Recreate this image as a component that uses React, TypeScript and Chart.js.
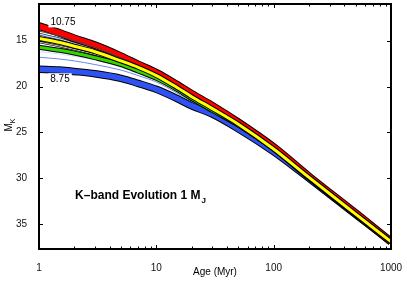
import { useEffect, useRef } from 'react';
import { Chart, registerables } from 'chart.js';

Chart.register(...registerables);

// Age in Myr
const ages = [1, 1.5, 2, 3, 5, 7, 10, 15, 20, 30, 50, 100, 200, 500, 1000];
// Absolute K magnitude for each initial-entropy track (label values 10.75 ... 8.75)
const mk1075 = [13.4, 14.15, 14.75, 15.5, 16.7, 17.6, 18.5, 19.8, 20.8, 22.1, 23.9, 26.6, 29.8, 33.8, 36.9];
const mk1050 = [13.95, 14.5, 15.0, 15.7, 16.9, 17.7, 18.6, 19.9, 20.9, 22.2, 24.0, 26.7, 29.85, 33.85, 36.9];
const mk1025 = [14.3, 14.8, 15.3, 16.0, 17.0, 17.8, 18.7, 20.0, 21.0, 22.3, 24.0, 26.7, 29.85, 33.85, 36.9];
const mk1000 = [14.75, 15.2, 15.6, 16.2, 17.2, 17.9, 18.8, 20.1, 21.1, 22.4, 24.1, 26.8, 29.9, 33.9, 36.9];
const mk975 = [15.15, 15.6, 15.95, 16.5, 17.4, 18.1, 18.9, 20.2, 21.2, 22.5, 24.1, 26.8, 29.9, 33.9, 36.9];
const mk950 = [15.7, 16.05, 16.35, 16.85, 17.6, 18.3, 19.1, 20.3, 21.3, 22.6, 24.2, 26.8, 29.9, 33.9, 36.9];
const mk925 = [16.2, 16.45, 16.7, 17.1, 17.9, 18.6, 19.3, 20.5, 21.5, 22.7, 24.3, 26.9, 29.95, 33.9, 36.9];
const mk900 = [16.8, 17.0, 17.2, 17.6, 18.2, 18.8, 19.5, 20.7, 21.6, 22.8, 24.4, 26.9, 29.95, 33.9, 36.9];
const mk875 = [18.1, 18.2, 18.35, 18.6, 19.1, 19.65, 20.3, 21.3, 22.1, 23.0, 24.6, 27.1, 30.0, 33.95, 36.9];

const xTickValues = [1, 10, 100, 1000];
const yTickValues = [15, 20, 25, 30, 35];
const trackLabels = [
  { text: '10.75', age: 1.6, mk: 12.95 },
  { text: '8.75', age: 1.51, mk: 19.15 },
];
const titleText = 'K\u2013band Evolution 1 M';
const titleSub = 'J';

const FONT = '"Liberation Sans", Arial, Helvetica, sans-serif';

type Track = { data: number[]; color: string; w: number; ow: number };
// drawn bottom to top
const tracks: Track[] = [
  { data: mk875, color: '#2f52f2', w: 5.5, ow: 7.5 },
  { data: mk1075, color: '#ff0000', w: 6, ow: 8 },
  { data: mk900, color: '#6a88ea', w: 1, ow: 0 },
  { data: mk925, color: '#cfdcff', w: 1, ow: 0 },
  { data: mk975, color: '#ffffff', w: 0.8, ow: 2.2 },
  { data: mk1025, color: '#b7ccff', w: 1.5, ow: 2.5 },
  { data: mk1050, color: '#444444', w: 1, ow: 0 },
  { data: mk950, color: '#38d400', w: 3, ow: 5 },
  { data: mk1000, color: '#ffff00', w: 3, ow: 5 },
];

function buildDatasets() {
  const ds: any[] = [];
  let order = 1000;
  tracks.forEach((t) => {
    const pts = ages.map((a, i) => ({ x: a, y: t.data[i] }));
    if (t.ow > 0) {
      ds.push({
        data: pts,
        borderColor: '#000000',
        borderWidth: t.ow,
        pointRadius: 0,
        cubicInterpolationMode: 'monotone',
        fill: false,
        clip: 0,
        order: order--,
      });
    }
    ds.push({
      data: pts,
      borderColor: t.color,
      borderWidth: t.w,
      pointRadius: 0,
      cubicInterpolationMode: 'monotone',
      fill: false,
      clip: 0,
      order: order--,
    });
  });
  return ds;
}

const framePlugin = {
  id: 'frameAndText',
  afterDatasetsDraw(chart: any) {
    const { ctx, chartArea: a, scales } = chart;
    const x = scales.x;
    const y = scales.y;
    ctx.save();

    // track labels with white boxes
    ctx.font = `10px ${FONT}`;
    ctx.textAlign = 'center';
    ctx.textBaseline = 'middle';
    trackLabels.forEach((l) => {
      const px = x.getPixelForValue(l.age);
      const py = y.getPixelForValue(l.mk);
      const w = ctx.measureText(l.text).width;
      ctx.fillStyle = '#ffffff';
      ctx.fillRect(px - w / 2 - 2, py - 5.5, w + 4, 11);
      ctx.fillStyle = '#000000';
      ctx.fillText(l.text, px, py + 0.5);
    });

    // frame
    ctx.strokeStyle = '#000000';
    ctx.lineWidth = 2;
    ctx.strokeRect(a.left, a.top, a.right - a.left, a.bottom - a.top);

    // x ticks (major and minor), inward, top and bottom
    ctx.lineWidth = 1;
    ctx.beginPath();
    for (let d = 1; d < 1000; d *= 10) {
      for (let m = 1; m <= 10; m++) {
        const v = d * m;
        const px = Math.round(x.getPixelForValue(v)) + 0.5;
        const len = m === 1 || m === 10 ? 4 : 2.5;
        ctx.moveTo(px, a.bottom);
        ctx.lineTo(px, a.bottom - len);
        ctx.moveTo(px, a.top);
        ctx.lineTo(px, a.top + len);
      }
    }
    yTickValues.forEach((v) => {
      const py = Math.round(y.getPixelForValue(v)) + 0.5;
      ctx.moveTo(a.left, py);
      ctx.lineTo(a.left + 4, py);
      ctx.moveTo(a.right, py);
      ctx.lineTo(a.right - 4, py);
    });
    ctx.stroke();

    // inner title
    const tx = x.getPixelForValue(2.03);
    const ty = y.getPixelForValue(32.3);
    ctx.font = `bold 12px ${FONT}`;
    ctx.textAlign = 'left';
    ctx.textBaseline = 'alphabetic';
    ctx.fillStyle = '#000000';
    ctx.fillText(titleText, tx, ty);
    const tw = ctx.measureText(titleText).width;
    ctx.font = `bold 8px ${FONT}`;
    ctx.fillText(titleSub, tx + tw + 1, ty + 4);

    // y axis title M_K rotated
    ctx.translate(12, (a.top + a.bottom) / 2 + 5);
    ctx.rotate(-Math.PI / 2);
    ctx.font = `10px ${FONT}`;
    ctx.fillText('M', 0, 0);
    const mw = ctx.measureText('M').width;
    ctx.font = `7px ${FONT}`;
    ctx.fillText('K', mw, 2.5);

    ctx.restore();
  },
};

export default function App() {
  const ref = useRef<HTMLCanvasElement>(null);
  useEffect(() => {
    const canvas = ref.current;
    if (!canvas) return;
    const chart = new Chart(canvas, {
      type: 'line',
      data: { datasets: buildDatasets() },
      options: {
        animation: false,
        responsive: false,
        maintainAspectRatio: false,
        layout: { padding: { top: 4, right: 16, left: 0, bottom: 0 } },
        plugins: { legend: { display: false }, tooltip: { enabled: false } },
        elements: { line: { borderCapStyle: 'butt', borderJoinStyle: 'round' } },
        scales: {
          x: {
            type: 'logarithmic',
            min: 1,
            max: 1000,
            grid: { display: false },
            border: { display: false },
            afterBuildTicks: (s: any) => {
              s.ticks = xTickValues.map((v) => ({ value: v }));
            },
            afterFit: (s: any) => {
              s.height = 32;
              s.paddingLeft = 0;
              s.paddingRight = 0;
            },
            ticks: {
              autoSkip: false,
              maxRotation: 0,
              padding: 5,
              color: '#111111',
              font: { family: FONT, size: 10 },
              callback: (v: any) => String(v),
            },
            title: {
              display: true,
              text: 'Age (Myr)',
              color: '#000000',
              font: { family: FONT, size: 10 },
              padding: { top: 0, bottom: 3 },
            },
          },
          y: {
            type: 'linear',
            reverse: true,
            min: 11,
            max: 37.7,
            grid: { display: false },
            border: { display: false },
            afterBuildTicks: (s: any) => {
              s.ticks = yTickValues.map((v) => ({ value: v }));
            },
            afterFit: (s: any) => {
              s.width = 39;
              s.paddingTop = 0;
              s.paddingBottom = 0;
            },
            ticks: {
              padding: 4,
              color: '#111111',
              font: { family: FONT, size: 10 },
            },
          },
        },
      },
      plugins: [framePlugin],
    } as any);
    return () => chart.destroy();
  }, []);
  return (
    <div style={{ position: 'fixed', left: 0, top: 0, width: 407, height: 281, background: '#ffffff' }}>
      <canvas ref={ref} width={407} height={281} style={{ width: 407, height: 281, display: 'block' }} />
    </div>
  );
}
